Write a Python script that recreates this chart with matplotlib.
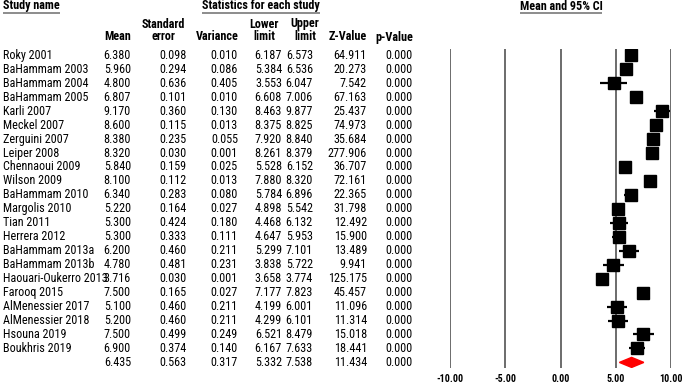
import matplotlib
matplotlib.use("Agg")
import matplotlib.pyplot as plt
from matplotlib import font_manager
from matplotlib.patches import Polygon

studies = ["Roky 2001", "BaHammam 2003", "BaHammam 2004", "BaHammam 2005", "Karli 2007",
           "Meckel 2007", "Zerguini 2007", "Leiper 2008", "Chennaoui 2009", "Wilson 2009",
           "BaHammam 2010", "Margolis 2010", "Tian 2011", "Herrera 2012", "BaHammam 2013a",
           "BaHammam 2013b", "Haouari-Oukerro 2013", "Farooq 2015", "AlMenessier 2017",
           "AlMenessier 2018", "Hsouna 2019", "Boukhris 2019"]
mean = [6.380, 5.960, 4.800, 6.807, 9.170, 8.600, 8.380, 8.320, 5.840, 8.100, 6.340, 5.220,
        5.300, 5.300, 6.200, 4.780, 3.716, 7.500, 5.100, 5.200, 7.500, 6.900]
se = [0.098, 0.294, 0.636, 0.101, 0.360, 0.115, 0.235, 0.030, 0.159, 0.112, 0.283, 0.164,
      0.424, 0.333, 0.460, 0.481, 0.030, 0.165, 0.460, 0.460, 0.499, 0.374]
variance = [0.010, 0.086, 0.405, 0.010, 0.130, 0.013, 0.055, 0.001, 0.025, 0.013, 0.080, 0.027,
            0.180, 0.111, 0.211, 0.231, 0.001, 0.027, 0.211, 0.211, 0.249, 0.140]
lower = [6.187, 5.384, 3.553, 6.608, 8.463, 8.375, 7.920, 8.261, 5.528, 7.880, 5.784, 4.898,
         4.468, 4.647, 5.299, 3.838, 3.658, 7.177, 4.199, 4.299, 6.521, 6.167]
upper = [6.573, 6.536, 6.047, 7.006, 9.877, 8.825, 8.840, 8.379, 6.152, 8.320, 6.896, 5.542,
         6.132, 5.953, 7.101, 5.722, 3.774, 7.823, 6.001, 6.101, 8.479, 7.633]
zval = [64.911, 20.273, 7.542, 67.163, 25.437, 74.973, 35.684, 277.906, 36.707, 72.161, 22.365,
        31.798, 12.492, 15.900, 13.489, 9.941, 125.175, 45.457, 11.096, 11.314, 15.018, 18.441]
pval = [0.000] * 22
summary = dict(mean=6.435, se=0.563, variance=0.317, lower=5.332, upper=7.538, z=11.434, p=0.000)
xticks = [-10, -5, 0, 5, 10]
xtick_labels = ["-10.00", "-5.00", "0.00", "5.00", "10.00"]

names = {f.name for f in font_manager.fontManager.ttflist}
narrow = None
for cand in ["Liberation Sans Narrow", "Arial Narrow", "Roboto Condensed", "Open Sans Condensed"]:
    if cand in names:
        narrow = cand
        break
fam = narrow if narrow else "Liberation Sans"
plt.rcParams["font.family"] = [fam, "DejaVu Sans"]

W, H = 685, 383
fig = plt.figure(figsize=(W / 100, H / 100), dpi=100)
r = fig.canvas.get_renderer()


def fit_size(s, target_px, weight="normal"):
    t = fig.text(0, 0, s, fontsize=10, fontweight=weight)
    w = t.get_window_extent(renderer=r).width
    t.remove()
    return 10 * target_px / w


FS = fit_size("BaHammam 2003", 82)
FSN = fit_size("0.000", 27.5)
FS = (FS + FSN) / 2
FB = fit_size("Statistics for each study", 119, "bold")
FT = fit_size("-10.00", 27, "bold")

top_px, bot_px = 49, 368
n = len(studies)
ylim = (n + 0.40, -0.45)

# forest axes
axf = fig.add_axes([450 / W, (H - bot_px) / H, 221 / W, (bot_px - top_px) / H])
axf.set_xlim(-10, 10)
axf.set_ylim(*ylim)
for s in axf.spines.values():
    s.set_visible(False)
axf.set_yticks([])
axf.set_xticks(xticks)
axf.set_xticklabels(xtick_labels, fontweight="bold", fontsize=FT)
axf.tick_params(axis="x", length=0, pad=4)
for xv in xticks:
    axf.axvline(xv, color="#444444", lw=1.1, zorder=1)
for i in range(n):
    axf.plot([lower[i], upper[i]], [i, i], color="black", lw=1.6, zorder=2, solid_capstyle="butt")
    axf.plot(mean[i], i, marker="s", color="black", markersize=8.3, zorder=3, linestyle="none")
ys = n
dh = 0.36
axf.add_patch(Polygon([(summary["lower"], ys), (summary["mean"], ys - dh),
                       (summary["upper"], ys), (summary["mean"], ys + dh)],
                      closed=True, facecolor="#ff0000", edgecolor="#ff0000", zorder=3))

# table axes aligned with forest rows
axt = fig.add_axes([0, (H - bot_px) / H, 1, (bot_px - top_px) / H])
axt.set_xlim(0, W)
axt.set_ylim(*ylim)
axt.axis("off")
axt.patch.set_alpha(0)

col_right = [131, 187, 238, 282, 313, 367, 413]
for i in range(n):
    axt.text(3, i, studies[i], ha="left", va="center", fontsize=FS)
    vals = [mean[i], se[i], variance[i], lower[i], upper[i], zval[i], pval[i]]
    for xr, v in zip(col_right, vals):
        axt.text(xr, i, f"{v:.3f}", ha="right", va="center", fontsize=FS)
svals = [summary["mean"], summary["se"], summary["variance"], summary["lower"],
         summary["upper"], summary["z"], summary["p"]]
for xr, v in zip(col_right, svals):
    axt.text(xr, n, f"{v:.3f}", ha="right", va="center", fontsize=FS)

# header axes in pixel units
axh = fig.add_axes([0, 0, 1, 1])
axh.set_xlim(0, W)
axh.set_ylim(H, 0)
axh.axis("off")
axh.patch.set_alpha(0)

titles = [("Study name", 3, "left"), ("Statistics for each study", 261, "center"),
          ("Mean and 95% CI", 561, "center")]
title_texts = []
for t, x, ha in titles:
    title_texts.append(axh.text(x, 6, t, ha=ha, va="center", fontsize=FB, fontweight="bold"))

hdr1 = [("Standard", 163, "center"), ("Lower", 264, "center"), ("Upper", 305, "center")]
hdr2 = [("Mean", 131, "right"), ("error", 163, "center"), ("Variance", 239, "right"),
        ("limit", 264, "center"), ("limit", 305, "center"), ("Z-Value", 367, "right"),
        ("p-Value", 413, "right")]
for t, x, ha in hdr1:
    axh.text(x, 24, t, ha=ha, va="center", fontsize=FB, fontweight="bold")
for t, x, ha in hdr2:
    axh.text(x, 37, t, ha=ha, va="center", fontsize=FB, fontweight="bold")

fig.canvas.draw()
inv = axh.transData.inverted()
for tt in title_texts:
    bb = tt.get_window_extent(renderer=r)
    (x0, _), (x1, _) = inv.transform([(bb.x0, bb.y0), (bb.x1, bb.y1)])
    axh.plot([x0, x1], [12.5, 12.5], color="#8c8c8c", lw=1.4, solid_capstyle="butt")

fig.savefig("out.png", dpi=100)
